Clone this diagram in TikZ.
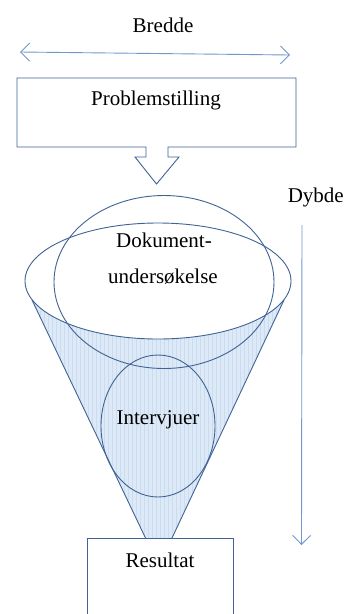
\documentclass[tikz,border=0pt]{standalone}
\usepackage{fontspec}
\setmainfont{Liberation Serif}
\usetikzlibrary{shapes.geometric,arrows.meta}
\definecolor{shapeline}{HTML}{3F6393}
\definecolor{arrowline}{HTML}{7098CC}
\definecolor{funnelfill}{HTML}{DDE9F7}
\definecolor{funnelgrid}{HTML}{CADCF1}
\tikzset{
  outline/.style={draw=shapeline, line width=0.9pt},
  guide/.style={draw=arrowline, line width=0.9pt,
    -{Straight Barb[length=9pt,width=18pt,line width=0.9pt]}},
  guideboth/.style={draw=arrowline, line width=0.9pt,
    {Straight Barb[length=9pt,width=18pt,line width=0.9pt]}-{Straight Barb[length=9pt,width=18pt,line width=0.9pt]}},
  oval/.style={ellipse, outline, inner sep=0pt},
  txt/.style={font=\fontsize{21}{25}\selectfont, inner sep=0pt}
}
\begin{document}
\begin{tikzpicture}[x=1pt,y=-1pt]
\useasboundingbox (0,0) rectangle (345,614);

% width arrow and label
\node[txt] (bredde) at (163,25) {Bredde};
\coordinate (wl) at (20,52);
\coordinate (wr) at (290,55);
\draw[guideboth] (wl) -- (wr);

% problem box with downward block arrow
\draw[outline, fill=white]
  (17,78) -- (296,78) -- (296,147) -- (168,147) -- (168,157) -- (179,157)
  -- (156.5,184) -- (135,157) -- (146,157) -- (146,147) -- (17,147) -- cycle;
\node[txt] (problem) at (156,100) {Problemstilling};

% funnel body with fine grid
\coordinate (ftl) at (32,300);
\coordinate (ftr) at (284,300);
\coordinate (fbl) at (145.5,538);
\coordinate (fbr) at (172,538);
\begin{scope}
  \clip (ftl) -- (ftr) -- (fbr) -- (fbl) -- cycle;
  \fill[funnelfill] (ftl) -- (ftr) -- (fbr) -- (fbl) -- cycle;
  \draw[funnelgrid, line width=0.3pt, step=4] (20.5,290.5) grid (300,540);
\end{scope}
\fill[white] (158,281) ellipse [x radius=133, y radius=58];
\draw[outline] (ftl) -- (fbl);
\draw[outline] (ftr) -- (fbr);

% overlapping ovals
\node[oval, minimum width=220pt, minimum height=173pt] (dok) at (164,282) {};
\node[oval, minimum width=266pt, minimum height=116pt] (rim) at (158,281) {};
\node[oval, minimum width=114pt, minimum height=142pt] (int) at (158,426) {};
\node[txt] (dok1) at (164,240) {Dokument-};
\node[txt] (dok2) at (163,277) {undersøkelse};
\node[txt] (intlabel) at (158,420) {Intervjuer};

% result box, running off the bottom edge
\draw[outline, fill=white] (87,620) -- (87,538) -- (233,538) -- (233,620);
\node[txt] (result) at (160,560) {Resultat};

% depth arrow and label
\node[txt, anchor=east] (dybde) at (344,197) {Dybde};
\coordinate (dt) at (302,225);
\coordinate (db) at (301.5,545);
\draw[guide] (dt) -- (db);
\end{tikzpicture}
\end{document}
